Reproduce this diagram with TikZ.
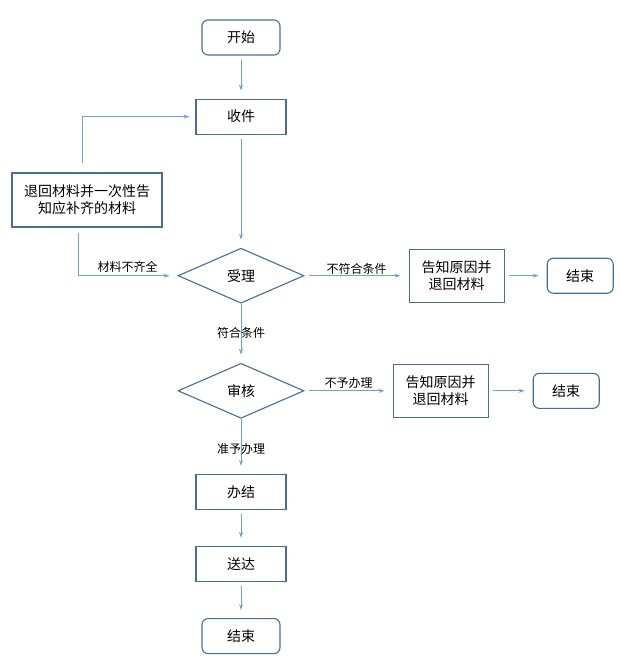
\documentclass[tikz,border=0pt]{standalone}
\usepackage{fontspec}
\setmainfont{Noto Sans CJK SC}
\usepackage{tikz}
\usetikzlibrary{positioning,shapes.geometric,arrows.meta}
\definecolor{boxline}{RGB}{70,110,150}
\definecolor{arrline}{RGB}{115,160,205}

\begin{document}
\begin{tikzpicture}[x=1pt, y=-1pt,
        box/.style={rectangle, draw=boxline, line width=1.1pt, inner sep=0pt,
                    minimum width=90pt, minimum height=35pt,
                    font=\fontsize{14}{17}\selectfont, align=center},
        term/.style={box, rounded corners=6pt, minimum width=78pt},
        decide/.style={diamond, draw=boxline, line width=1.1pt, inner sep=0pt,
                       minimum width=126pt, minimum height=55pt,
                       font=\fontsize{14}{17}\selectfont},
        arr/.style={-{Stealth[length=6pt,width=4pt]}, line width=1pt, arrline,
                    shorten <=4pt, shorten >=8pt},
        lbl/.style={font=\fontsize{12}{14}\selectfont, text=black}
      ]
        \useasboundingbox (0,0) rectangle (619,672);
        % main column
        \node[term] (start) at (241,37.5) {开始};
        \node[box, below=43pt of start] (recv) {收件};
        \node[decide, below=113pt of recv] (accept) {受理};
        \node[decide, below=59pt of accept] (check) {审核};
        \node[box, below=55pt of check] (done) {办结};
        \node[box, below=36pt of done] (deliver) {送达};
        \node[term, below=36pt of deliver] (end3) {结束};
        % side boxes
        \node[box, minimum width=150pt, minimum height=54pt] (ret) at (87,200)
              {退回材料并一次性告\\知应补齐的材料};
        \node[box, minimum width=95pt, minimum height=53pt, right=104pt of accept.east,
              anchor=west] (rej1) {告知原因并\\退回材料};
        \node[term, minimum width=66pt, right=42pt of rej1] (end1) {结束};
        \node[box, minimum width=95pt, minimum height=53pt, right=88pt of check.east,
              anchor=west] (rej2) {告知原因并\\退回材料};
        \node[term, minimum width=66pt, right=44pt of rej2] (end2) {结束};

        \draw[arr] (start) -- (recv);
        \draw[arr] (recv) -- (accept);
        \draw[arr, shorten <=0pt] (accept) -- (check)
              node[lbl, midway] {符合条件};
        \draw[arr, shorten <=0pt] (check) -- (done)
              node[lbl, pos=0.55] {准予办理};
        \draw[arr] (done) -- (deliver);
        \draw[arr] (deliver) -- (end3);
        \draw[arr] (accept) -- (rej1)
              node[lbl, midway, above, inner sep=1pt] {不符合条件};
        \draw[arr] (rej1) -- (end1);
        \draw[arr] (check) -- (rej2)
              node[lbl, midway, above, inner sep=2pt] {不予办理};
        \draw[arr] (rej2) -- (end2);
        % loop back
        \draw[arr, shorten <=9pt, shorten >=6pt] ([xshift=-5pt]ret.north) |- (recv.west);
        \draw[arr, shorten <=5pt] ([xshift=-9pt]ret.south) |- (accept.west)
              node[lbl, pos=0.75, above, inner sep=3pt] {材料不齐全};
      \end{tikzpicture}
\end{document}
